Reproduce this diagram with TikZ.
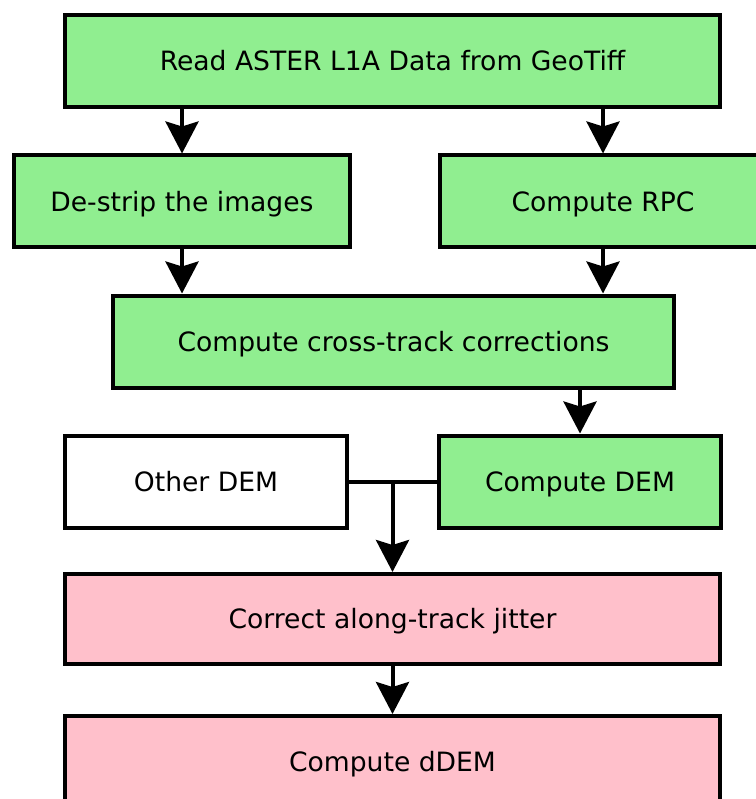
\documentclass[tikz,border=0pt]{standalone}
\usepackage{fontspec}
\setmainfont{DejaVu Sans}
\usepackage{xcolor}
\usepackage{tikz}
\usetikzlibrary{shapes,arrows.meta,positioning}

\definecolor{stepgreen}{RGB}{144,238,144}
\definecolor{steppink}{RGB}{255,192,203}

\begin{document}
\begin{tikzpicture}[
    x=1pt, y=-1pt,
    font=\fontsize{26.6}{32}\selectfont,
    block/.style={rectangle, draw, line width=4pt, fill=stepgreen, minimum height=92pt, text height=19.4pt, text depth=0pt, text centered},
    extern/.style={rectangle, draw, line width=4pt, fill=white, minimum height=92pt, text height=19.4pt, text depth=0pt, text centered},
    result/.style={rectangle, draw, line width=4pt, fill=steppink, minimum height=90pt, text height=19.4pt, text depth=0pt, text centered},
    arrow/.style={line width=4pt, -{Stealth[length=32pt, width=33pt, inset=5pt]}},
    link/.style={line width=4pt}
]
    \useasboundingbox (0,0) rectangle (755,799);

    % Input and preprocessing
    \node [block, minimum width=655pt] (read) at (392.5,61) {Read ASTER L1A Data from GeoTiff};
    \node [block, minimum width=336pt] (destrip) at (182,201.5) {De-strip the images};
    \node [block, minimum width=326pt] (rpc) at (603,201.5) {Compute RPC};
    \node [block, minimum width=561pt] (cross) at (393.5,341.5) {Compute cross-track corrections};

    % DEMs
    \node [extern, minimum width=282pt] (other) at (206,481.5) {Other DEM};
    \node [block, minimum width=282pt] (dem) at (580,481.5) {Compute DEM};

    % Corrections
    \node [result, minimum width=655pt] (jitter) at (392.5,619) {Correct along-track jitter};
    \node [result, minimum width=655pt, minimum height=92pt] (ddem) at (392.5,762) {Compute dDEM};

    % Connections
    \draw [arrow] (read.south -| destrip.north) -- (destrip.north);
    \draw [arrow] (read.south -| rpc.north) -- (rpc.north);
    \draw [arrow] (destrip.south) -- (destrip.south |- cross.north);
    \draw [arrow] (rpc.south) -- (rpc.south |- cross.north);
    \draw [arrow] (cross.south -| dem.north) -- (dem.north);
    \coordinate (join) at (jitter.north |- other.east);
    \draw [link] (other.east) -- (dem.west);
    \draw [arrow] (join) -- (jitter.north);
    \draw [arrow] (jitter) -- (ddem);
\end{tikzpicture}
\end{document}
